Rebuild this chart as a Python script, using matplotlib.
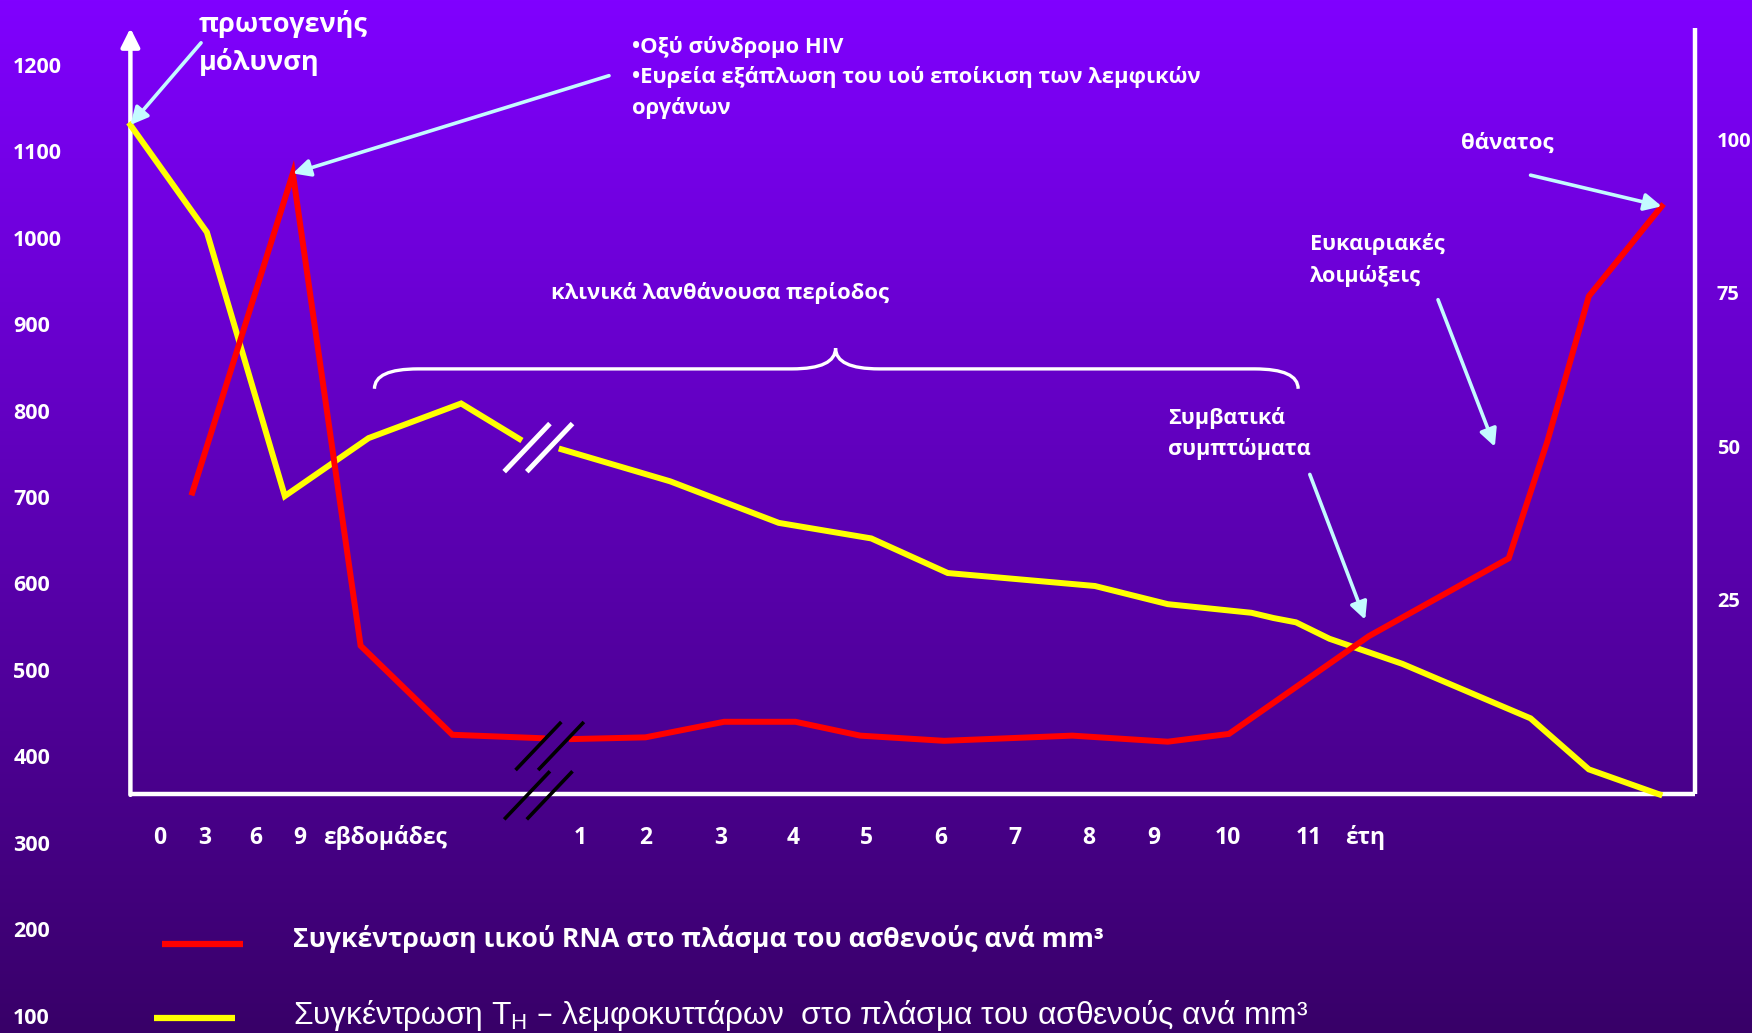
import numpy as np
import matplotlib.pyplot as plt
from matplotlib.path import Path
from matplotlib.patches import PathPatch

plt.rcParams['font.family'] = ['Open Sans', 'DejaVu Sans']
plt.rcParams['font.weight'] = 'bold'

# x is on a "years" scale (weeks part sits left of year 1), y is the left scale (cells / mm3)
week_ticks_x = [-4.77, -4.15, -3.45, -2.85]
week_labels = ['0', '3', '6', '9']
year_ticks_x = [1.0, 1.90, 2.93, 3.93, 4.94, 5.95, 6.97, 7.98, 8.88, 9.90, 11.0]
year_labels = ['1', '2', '3', '4', '5', '6', '7', '8', '9', '10', '11']
left_ticks = [100, 200, 300, 400, 500, 600, 700, 800, 900, 1000, 1100, 1200]
right_ticks = [25, 50, 75, 100]

# T helper cells (yellow), before and after the axis break
th_x1 = [-5.17, -4.12, -3.05, -1.90, -0.63, 0.17]
th_y1 = [1133, 1009, 704, 771, 811, 770]
th_x2 = [0.75, 2.24, 3.73, 5.00, 6.05, 8.07, 9.07, 10.22, 10.52, 10.83, 11.29, 12.29, 14.05, 14.85, 15.82]
th_y2 = [758, 721, 673, 655, 615, 600, 579, 569, 563, 558, 539, 510, 447, 388, 359]

# viral RNA (red)
rna_x1 = [-4.32, -2.94, -2.01, -0.75, 0.48]
rna_y1 = [708, 1077, 531, 428, 424]
rna_x2 = [0.89, 1.90, 2.98, 3.96, 4.85, 6.00, 7.76, 9.07, 9.91, 11.83, 13.75, 14.28, 14.85, 15.85]
rna_y2 = [423, 425, 443, 443, 427, 421, 427, 420, 429, 542, 632, 767, 935, 1039]

XMIN, XMAX = -6.96, 17.09
YMIN, YMAX = 83.2, 1277.5
AX_L, AX_R, AX_B, AX_T = -5.17, 16.31, 360, 1245

def right_to_left(r):
    # right scale (25..100) expressed on the left scale
    return 581.5 + (r - 25) * 7.093

fig = plt.figure(figsize=(17.52, 10.33), dpi=100)
ax = fig.add_axes([0, 0, 1, 1])
ax.set_xlim(XMIN, XMAX)
ax.set_ylim(YMIN, YMAX)
ax.axis('off')

# background gradient
top = np.array([128, 0, 255]) / 255
bot = np.array([56, 0, 104]) / 255
t = np.linspace(0, 1, 400)[:, None]
grad = (top * (1 - t) + bot * t)[:, None, :]
ax.imshow(grad, extent=[XMIN, XMAX, YMIN, YMAX], aspect='auto', zorder=0)

white = 'white'
cyan = '#c4fbff'

# axes frame
ax.plot([AX_L, AX_R], [AX_B, AX_B], color=white, lw=3.2, zorder=3, solid_capstyle='butt')
ax.plot([AX_R, AX_R], [AX_B, AX_T], color=white, lw=3.2, zorder=3, solid_capstyle='butt')
ax.annotate('', xy=(AX_L, AX_T), xytext=(AX_L, AX_B - 1.5),
            arrowprops=dict(arrowstyle='-|>', color=white, lw=3.2, mutation_scale=28,
                            shrinkA=0, shrinkB=0), zorder=3)

# curves
for xs, ys in [(th_x1, th_y1), (th_x2, th_y2)]:
    ax.plot(xs, ys, color='#ffff00', lw=4.3, zorder=4, solid_joinstyle='miter')
for xs, ys in [(rna_x1, rna_y1), (rna_x2, rna_y2)]:
    ax.plot(xs, ys, color='#ff0000', lw=4.3, zorder=5, solid_joinstyle='miter')

# axis break marks
def break_mark(xc, yc, color, lw):
    for off in (-0.155, 0.155):
        ax.plot([xc + off - 0.314, xc + off + 0.314], [yc - 27.8, yc + 27.8],
                color=color, lw=lw, zorder=6, solid_capstyle='butt')

break_mark(0.43, 760, white, 3.6)
break_mark(0.586, 415, 'black', 2.6)
break_mark(0.43, 358, 'black', 2.6)

# left and right scale labels
ytr = ax.get_yaxis_transform()
for v in left_ticks:
    ax.text(0.0075, v, str(v), transform=ytr, color=white, fontsize=15.5,
            ha='left', va='center')
for r in right_ticks:
    ax.text(0.980, right_to_left(r), str(r), transform=ytr, color=white, fontsize=14.5,
            ha='left', va='center')

# time labels
lab_y = 309
for x, s in zip(week_ticks_x, week_labels):
    ax.text(x, lab_y, s, color=white, fontsize=16.5, ha='center', va='center')
ax.text(-2.53, lab_y, 'εβδομάδες', color=white, fontsize=16.5, ha='left', va='center')
for x, s in zip(year_ticks_x, year_labels):
    ax.text(x, lab_y, s, color=white, fontsize=16.5, ha='center', va='center')
ax.text(11.78, lab_y, 'έτη', color=white, fontsize=16.5, ha='center', va='center')

# annotations
arrow = dict(arrowstyle='-|>', color=cyan, lw=2.6, mutation_scale=26, shrinkA=0, shrinkB=0)
ax.annotate('', xy=(th_x1[0], th_y1[0]), xytext=(-4.20, 1228), arrowprops=arrow, zorder=7)
ax.annotate('', xy=(rna_x1[1], rna_y1[1]), xytext=(1.40, 1190), arrowprops=arrow, zorder=7)
ax.annotate('', xy=(rna_x2[-1], rna_y2[-1]), xytext=(14.05, 1075), arrowprops=arrow, zorder=7)
ax.annotate('', xy=(13.56, 761), xytext=(12.78, 931), arrowprops=arrow, zorder=7)
ax.annotate('', xy=(11.78, 561), xytext=(11.02, 729), arrowprops=arrow, zorder=7)

ax.text(-4.23, 1228, 'πρωτογενής\nμόλυνση', color=white, fontsize=19.5,
        ha='left', va='center', linespacing=1.45)
ax.text(1.71, 1188, '•Οξύ σύνδρομο HIV\n•Ευρεία εξάπλωση του ιού εποίκιση των λεμφικών\nοργάνων',
        color=white, fontsize=15.8, ha='left', va='center', linespacing=1.5)
ax.text(13.10, 1112, 'θάνατος', color=white, fontsize=16, ha='left', va='center')
ax.text(11.02, 977, 'Ευκαιριακές\nλοιμώξεις', color=white, fontsize=15.6,
        ha='left', va='center', linespacing=1.55)
ax.text(9.08, 776, 'Συμβατικά\nσυμπτώματα', color=white, fontsize=15.6,
        ha='left', va='center', linespacing=1.55)
ax.text(2.93, 939, 'κλινικά λανθάνουσα περίοδος', color=white, fontsize=15.8,
        ha='center', va='center')

# curly brace over the latent period
bx0, bx1, bxm = -1.82, 10.86, 4.51
by, by_end, by_tip = 851, 828, 875
rx = 0.6
verts = [(bx0, by_end), (bx0, by), (bx0 + rx, by),
         (bxm - rx, by),
         (bxm, by), (bxm, by_tip),
         (bxm, by), (bxm + rx, by),
         (bx1 - rx, by),
         (bx1, by), (bx1, by_end)]
codes = [Path.MOVETO, Path.CURVE3, Path.CURVE3,
         Path.LINETO,
         Path.CURVE3, Path.CURVE3,
         Path.CURVE3, Path.CURVE3,
         Path.LINETO,
         Path.CURVE3, Path.CURVE3]
ax.add_patch(PathPatch(Path(verts, codes), facecolor='none', edgecolor=white, lw=2.4, zorder=6))

# legend
ax.plot([-4.73, -3.63], [186, 186], color='#ff0000', lw=4.5, solid_capstyle='butt')
ax.plot([-4.84, -3.74], [100, 100], color='#ffff00', lw=4.5, solid_capstyle='butt')
ax.text(-2.94, 192, 'Συγκέντρωση ιικού RNA στο πλάσμα του ασθενούς ανά mm³',
        color=white, fontsize=19.2, ha='left', va='center')
ax.text(-2.94, 103, 'Συγκέντρωση T$_\\mathregular{H}$ – λεμφοκυττάρων  στο πλάσμα του ασθενούς ανά mm³',
        color=white, fontsize=22.9, ha='left', va='center', weight='normal',
        family=['Liberation Sans', 'DejaVu Sans'])

fig.savefig('out.png', dpi=100)
